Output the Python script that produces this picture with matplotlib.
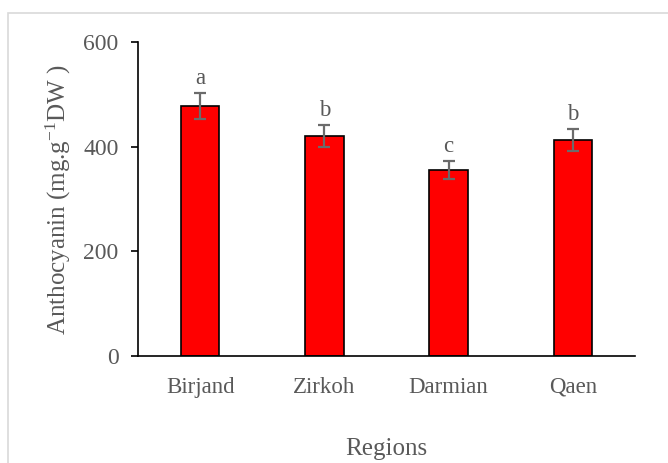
import matplotlib
matplotlib.use("Agg")
import matplotlib.pyplot as plt
from matplotlib.patches import Rectangle
import numpy as np

# data
regions = ["Birjand", "Zirkoh", "Darmian", "Qaen"]
anthocyanin = [478, 421, 356, 413]
errors = [24, 21, 17, 21]
letters = ["a", "b", "c", "b"]

plt.rcParams["font.family"] = ["Liberation Serif", "DejaVu Serif"]
plt.rcParams["mathtext.default"] = "regular"
grey = "#595959"

fig = plt.figure(figsize=(6.68, 4.63), dpi=100)
ax = fig.add_axes([0.2066, 0.231, 0.744, 0.678])

# light outer frame like the spreadsheet chart area
fig.patches.append(Rectangle((8 / 668, -0.1), 1.2, 1.1 - 13 / 463,
                             transform=fig.transFigure, fill=False,
                             edgecolor="#d9d9d9", lw=1.2))

x = np.arange(len(regions))
ax.bar(x, anthocyanin, width=0.31, color="#ff0000", edgecolor="black",
       lw=1.2, zorder=2)
ax.errorbar(x, anthocyanin, yerr=errors, fmt="none", ecolor="#6b6b6b",
            elinewidth=1.6, capsize=4.5, capthick=1.6, zorder=3)

for xi, v, e, s in zip(x, anthocyanin, errors, letters):
    ax.annotate(s, (xi, v + e), xytext=(0, 3), textcoords="offset points",
                ha="center", va="bottom", fontsize=16.5, color=grey)

ax.set_xlim(-0.5, len(regions) - 0.5)
ax.set_ylim(0, 600)
ax.set_yticks([0, 200, 400, 600])
ax.set_xticks(x)
ax.set_xticklabels(regions)

ax.tick_params(axis="x", length=0, pad=15, labelsize=16.5, labelcolor=grey)
ax.tick_params(axis="y", length=5, width=1.2, labelsize=17, labelcolor=grey,
               pad=9)

ax.spines["top"].set_visible(False)
ax.spines["right"].set_visible(False)
ax.spines["left"].set_linewidth(1.2)
ax.spines["bottom"].set_linewidth(1.2)

ax.set_xlabel("Regions", fontsize=18, color=grey, labelpad=29)
ax.set_ylabel("Anthocyanin (mg.g$^{-1}$DW )", fontsize=18, color=grey,
              labelpad=7)

fig.savefig("out.png", dpi=100)
